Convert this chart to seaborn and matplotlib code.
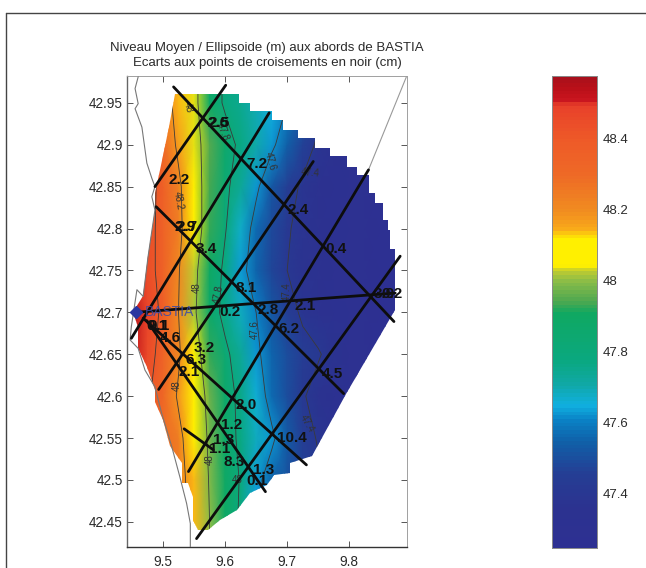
import numpy as np
import pandas as pd
import seaborn as sns
import matplotlib
matplotlib.use('Agg')
import matplotlib.pyplot as plt
from matplotlib.colors import LinearSegmentedColormap, Normalize
from matplotlib.lines import Line2D
from matplotlib.patches import Polygon

# mean sea level / ellipsoid field (m)
lons = [9.45, 9.475, 9.5, 9.525, 9.55, 9.575, 9.6, 9.625, 9.65, 9.675,
        9.7, 9.725, 9.75, 9.775, 9.8, 9.825, 9.85, 9.875, 9.9]
lats = [42.40, 42.45, 42.50, 42.55, 42.60, 42.65, 42.70, 42.75, 42.80,
        42.85, 42.90, 42.95, 43.00]
row_4240 = [48.40, 48.35, 48.30, 48.26, 48.14, 48.00, 47.89, 47.78, 47.65, 47.56, 47.50, 47.46, 47.42, 47.38, 47.34, 47.30, 47.28, 47.27, 47.26]
row_4245 = [48.40, 48.35, 48.30, 48.26, 48.14, 48.00, 47.89, 47.78, 47.65, 47.56, 47.50, 47.46, 47.42, 47.38, 47.34, 47.30, 47.28, 47.27, 47.26]
row_4250 = [48.40, 48.35, 48.30, 48.25, 48.14, 47.99, 47.89, 47.79, 47.63, 47.55, 47.50, 47.46, 47.42, 47.38, 47.34, 47.30, 47.28, 47.27, 47.26]
row_4255 = [48.45, 48.38, 48.30, 48.24, 48.10, 47.98, 47.87, 47.77, 47.68, 47.62, 47.53, 47.45, 47.39, 47.35, 47.32, 47.30, 47.28, 47.27, 47.26]
row_4260 = [48.50, 48.42, 48.32, 48.18, 48.07, 47.97, 47.87, 47.76, 47.66, 47.56, 47.49, 47.41, 47.36, 47.32, 47.30, 47.28, 47.27, 47.27, 47.26]
row_4265 = [48.52, 48.46, 48.34, 48.22, 48.05, 47.93, 47.83, 47.73, 47.62, 47.55, 47.49, 47.44, 47.41, 47.36, 47.30, 47.28, 47.27, 47.27, 47.26]
row_4270 = [48.56, 48.48, 48.37, 48.20, 48.02, 47.87, 47.76, 47.68, 47.60, 47.52, 47.45, 47.38, 47.34, 47.31, 47.29, 47.28, 47.27, 47.27, 47.26]
row_4275 = [48.50, 48.45, 48.35, 48.21, 48.03, 47.90, 47.77, 47.63, 47.55, 47.47, 47.40, 47.36, 47.33, 47.30, 47.28, 47.28, 47.27, 47.27, 47.26]
row_4280 = [48.50, 48.45, 48.35, 48.24, 48.07, 47.93, 47.81, 47.67, 47.56, 47.48, 47.41, 47.37, 47.34, 47.31, 47.29, 47.28, 47.27, 47.27, 47.26]
row_4285 = [48.50, 48.45, 48.36, 48.23, 48.06, 47.94, 47.83, 47.73, 47.62, 47.52, 47.45, 47.38, 47.34, 47.31, 47.29, 47.28, 47.27, 47.27, 47.26]
row_4290 = [48.50, 48.42, 48.32, 48.17, 48.04, 47.95, 47.86, 47.77, 47.70, 47.62, 47.54, 47.46, 47.38, 47.33, 47.30, 47.28, 47.27, 47.27, 47.26]
row_4295 = [48.50, 48.36, 48.28, 48.14, 48.04, 47.88, 47.78, 47.74, 47.69, 47.65, 47.60, 47.52, 47.43, 47.36, 47.32, 47.29, 47.27, 47.27, 47.26]
row_4300 = [48.50, 48.36, 48.28, 48.14, 48.04, 47.88, 47.78, 47.74, 47.69, 47.65, 47.60, 47.52, 47.43, 47.36, 47.32, 47.29, 47.27, 47.27, 47.26]
field_rows = [row_4240, row_4245, row_4250, row_4255, row_4260, row_4265, row_4270,
              row_4275, row_4280, row_4285, row_4290, row_4295, row_4300]

# outline of the coloured zone
zone_lon = [9.519, 9.623, 9.623, 9.640, 9.640, 9.675, 9.675, 9.694, 9.694, 9.718, 9.718, 9.745, 9.745,
            9.769, 9.769, 9.796, 9.796, 9.812, 9.812, 9.831, 9.831, 9.842, 9.842, 9.855, 9.855, 9.863,
            9.863, 9.866, 9.866, 9.874, 9.874, 9.794, 9.740, 9.705, 9.705, 9.678, 9.667, 9.640, 9.619,
            9.592, 9.573, 9.557, 9.549, 9.549, 9.541, 9.530, 9.530, 9.511, 9.5005, 9.487, 9.487, 9.474,
            9.460, 9.460, 9.452, 9.468, 9.476, 9.487, 9.487, 9.495, 9.509]
zone_lat = [42.960, 42.960, 42.950, 42.950, 42.940, 42.940, 42.929, 42.929, 42.917, 42.917, 42.908, 42.908, 42.896,
            42.896, 42.886, 42.886, 42.874, 42.874, 42.864, 42.864, 42.842, 42.842, 42.830, 42.830, 42.810, 42.810,
            42.798, 42.798, 42.776, 42.776, 42.703, 42.603, 42.528, 42.520, 42.508, 42.506, 42.494, 42.484, 42.464,
            42.452, 42.440, 42.440, 42.452, 42.480, 42.496, 42.496, 42.520, 42.540, 42.571, 42.593, 42.607, 42.635,
            42.657, 42.683, 42.700, 42.719, 42.767, 42.822, 42.842, 42.870, 42.921]

coast_lon = [9.460, 9.455, 9.460, 9.455, 9.466, 9.474, 9.482, 9.487, 9.482, 9.487, 9.476, 9.468, 9.458, 9.449,
             9.447, 9.460, 9.471, 9.487, 9.498, 9.514, 9.527, 9.538, 9.544, 9.544]
coast_lat = [42.981, 42.967, 42.949, 42.943, 42.921, 42.878, 42.860, 42.850, 42.838, 42.822, 42.767, 42.719,
             42.727, 42.683, 42.667, 42.657, 42.631, 42.611, 42.579, 42.540, 42.504, 42.472, 42.448, 42.42]
coast2_lon = [9.831, 9.892]
coast2_lat = [42.870, 42.981]

# altimeter tracks
track_names = ['d1', 'd2', 'd3', 'd4', 'd5', 'a1', 'a2', 'a3', 'a4', 'a5', 'h']
track_lon = [[9.517, 9.872], [9.489, 9.791], [9.468, 9.731], [9.474, 9.665], [9.534, 9.581],
             [9.487, 9.601], [9.449, 9.671], [9.493, 9.742], [9.541, 9.831], [9.554, 9.882], [9.455, 9.874]]
track_lat = [[42.969, 42.689], [42.826, 42.603], [42.693, 42.518], [42.690, 42.486], [42.561, 42.536],
             [42.850, 42.971], [42.669, 42.938], [42.608, 42.880], [42.510, 42.870], [42.430, 42.767], [42.700, 42.723]]

# crossing point differences in black (cm)
cross_txt = ['2.6', '2.5', '7.2', '2.2', '2.4', '2.9', '2.7', '0.4', '3.4', '8.1', '0.2', '2.8', '2.1', '6.2', '4.5',
             '2.0', '1.2', '10.4', '3.2', '6.3', '2.1', '4.6', '1.3', '1.1', '8.3', '1.3', '0.1', '0.1', '9.1', '3.9', '0.2']
cross_lon = [9.571, 9.573, 9.635, 9.509, 9.701, 9.519, 9.521, 9.762, 9.552, 9.616, 9.590, 9.652, 9.711, 9.686, 9.756,
             9.616, 9.594, 9.683, 9.549, 9.536, 9.525, 9.495, 9.581, 9.574, 9.597, 9.645, 9.635, 9.474, 9.476, 9.840, 9.852]
cross_lat = [42.926, 42.926, 42.877, 42.858, 42.822, 42.802, 42.802, 42.775, 42.776, 42.729, 42.700, 42.703, 42.708,
             42.680, 42.626, 42.590, 42.565, 42.550, 42.657, 42.643, 42.629, 42.669, 42.548, 42.537, 42.521, 42.512, 42.499, 42.684, 42.684, 42.722, 42.722]

# small contour labels
iso_txt = ['48', '47.8', '47.6', '47.4', '48.2', '48', '47.8', '47.4', '47.6', '47.4', '48', '48', '48']
iso_lon = [9.540, 9.597, 9.672, 9.738, 9.525, 9.555, 9.590, 9.700, 9.648, 9.732, 9.522, 9.576, 9.620]
iso_lat = [42.945, 42.915, 42.880, 42.867, 42.833, 42.730, 42.722, 42.725, 42.680, 42.567, 42.612, 42.524, 42.500]
iso_rot = [-75, -70, -75, -5, -80, 90, 80, 90, 90, -60, 90, 90, 0]

levels = [47.4, 47.6, 47.8, 48, 48.2, 48.4]
xticks = [9.5, 9.6, 9.7, 9.8]
xtick_labels = ['9.5', '9.6', '9.7', '9.8']
yticks = [42.45, 42.5, 42.55, 42.6, 42.65, 42.7, 42.75, 42.8, 42.85, 42.9, 42.95]
ytick_labels = ['42.45', '42.5', '42.55', '42.6', '42.65', '42.7', '42.75', '42.8', '42.85', '42.9', '42.95']
cbar_ticks = [47.4, 47.6, 47.8, 48, 48.2, 48.4]
cbar_labels = ['47.4', '47.6', '47.8', '48', '48.2', '48.4']

vmin, vmax = 47.245, 48.577
cmap_values = [47.245, 47.35, 47.45, 47.54, 47.60, 47.645, 47.70, 47.77, 47.91, 47.945, 48.0, 48.03,
               48.045, 48.12, 48.15, 48.2, 48.3, 48.4, 48.50, 48.515, 48.55, 48.577]
cmap_colors = ['#2d3092', '#2c3290', '#253e94', '#1060a8', '#0a80c4', '#10b0e0', '#10a8a8', '#0aa880',
               '#10a860', '#50a850', '#88bc48', '#c0cc30', '#fff000', '#fff000', '#f9a81a', '#f08c20',
               '#ee6a26', '#ee5a28', '#e8402a', '#c8141e', '#b81018', '#a8101c']

W, H = 646, 568
sns.set_style('white')
plt.rcParams['font.family'] = ['Liberation Sans', 'DejaVu Sans']
TXT = '#2a2a2a'
GREY = '#8a8a8a'

cmap = LinearSegmentedColormap.from_list(
    'niveau', [((v - vmin) / (vmax - vmin), c) for v, c in zip(cmap_values, cmap_colors)], N=256)
norm = Normalize(vmin, vmax)

fig = plt.figure(figsize=(W / 100, H / 100), dpi=100, facecolor='white')
# page frame, only the top and left rules show
fig.add_artist(Line2D([6 / W, 1], [1 - 12.5 / H, 1 - 12.5 / H], color='#444444', lw=1))
fig.add_artist(Line2D([6 / W, 6 / W], [0, 1 - 12.5 / H], color='#444444', lw=1))

ax = fig.add_axes([127 / W, 1 - 547 / H, 280 / W, 471 / H], facecolor='white')

field = np.array(field_rows)
zone = Polygon(np.column_stack([zone_lon, zone_lat]), closed=True, transform=ax.transData, fc='none', ec='none')
ax.add_patch(zone)
mesh = ax.pcolormesh(lons, lats, field, cmap=cmap, norm=norm, shading='gouraud', zorder=1)
mesh.set_clip_path(zone)
cs = ax.contour(lons, lats, field, levels=levels, colors='#3a3a3a', linewidths=0.6, zorder=2)
cs.set_clip_path(zone)

sns.lineplot(x=coast_lon, y=coast_lat, sort=False, estimator=None, color='#777777', lw=0.8, ax=ax, zorder=3)
sns.lineplot(x=coast2_lon, y=coast2_lat, sort=False, estimator=None, color='#999999', lw=0.8, ax=ax, zorder=3)

for i, name in enumerate(track_names):
    df = pd.DataFrame({'lon': track_lon[i], 'lat': track_lat[i]})
    sns.lineplot(data=df, x='lon', y='lat', sort=False, estimator=None, color='#0d0d0d', lw=2.0, ax=ax, zorder=4)

for t, x, y, r in zip(iso_txt, iso_lon, iso_lat, iso_rot):
    ax.text(x, y, t, fontsize=7, color='#333333', rotation=r, ha='center', va='center', zorder=3)

ax.plot([9.456], [42.70], marker='D', ms=6.5, color='#2a35a0', ls='none', zorder=5)
ax.text(9.470, 42.70, 'BASTIA', fontsize=10, color='#3a4aa8', alpha=0.85, va='center', zorder=5)

for t, x, y in zip(cross_txt, cross_lon, cross_lat):
    ax.text(x, y, t, fontsize=11, color='#111111', fontweight='bold', va='center', ha='left', zorder=6)

ax.set_xlim(9.442, 9.893)
ax.set_ylim(42.42, 42.982)
ax.set_xticks(xticks)
ax.set_xticklabels(xtick_labels)
ax.set_yticks(yticks)
ax.set_yticklabels(ytick_labels)
ax.set_xlabel('')
ax.set_ylabel('')
ax.tick_params(direction='in', length=4, width=0.7, color='#555555', labelsize=9.8, labelcolor=TXT,
               top=True, right=True, bottom=True, left=True)
ax.tick_params(axis='x', pad=6)
ax.tick_params(axis='y', pad=3)
for side, s in ax.spines.items():
    s.set_color('#333333' if side == 'bottom' else ('#666666' if side == 'left' else '#a0a0a0'))
    s.set_linewidth(1.0 if side in ('bottom', 'left') else 0.7)

ax.text(0.5, 1.060, 'Niveau Moyen / Ellipsoide (m) aux abords de BASTIA', transform=ax.transAxes,
        fontsize=9.5, color=TXT, ha='center', va='center')
ax.text(0.5, 1.027, 'Ecarts aux points de croisements en noir (cm)', transform=ax.transAxes,
        fontsize=9.5, color=TXT, ha='center', va='center')

# colour scale on the right
cax = fig.add_axes([552 / W, 1 - 548 / H, 45 / W, 472 / H])
scale = np.linspace(vmax, vmin, 128).reshape(-1, 1)
sns.heatmap(scale, cmap=cmap, norm=norm, cbar=False, ax=cax, xticklabels=False, yticklabels=False)
cax.set_yticks([(vmax - v) / (vmax - vmin) * 128 for v in cbar_ticks])
cax.set_yticklabels(cbar_labels)
cax.yaxis.tick_right()
cax.tick_params(axis='y', direction='in', length=3, width=0.7, color='#444444', labelsize=9.5,
                labelcolor=TXT, left=True, right=True, labelright=True, labelleft=False, pad=4)
for s in cax.spines.values():
    s.set_visible(True)
    s.set_color(GREY)
    s.set_linewidth(0.7)

fig.savefig('out.png', dpi=100, facecolor=fig.get_facecolor())
print('done')
